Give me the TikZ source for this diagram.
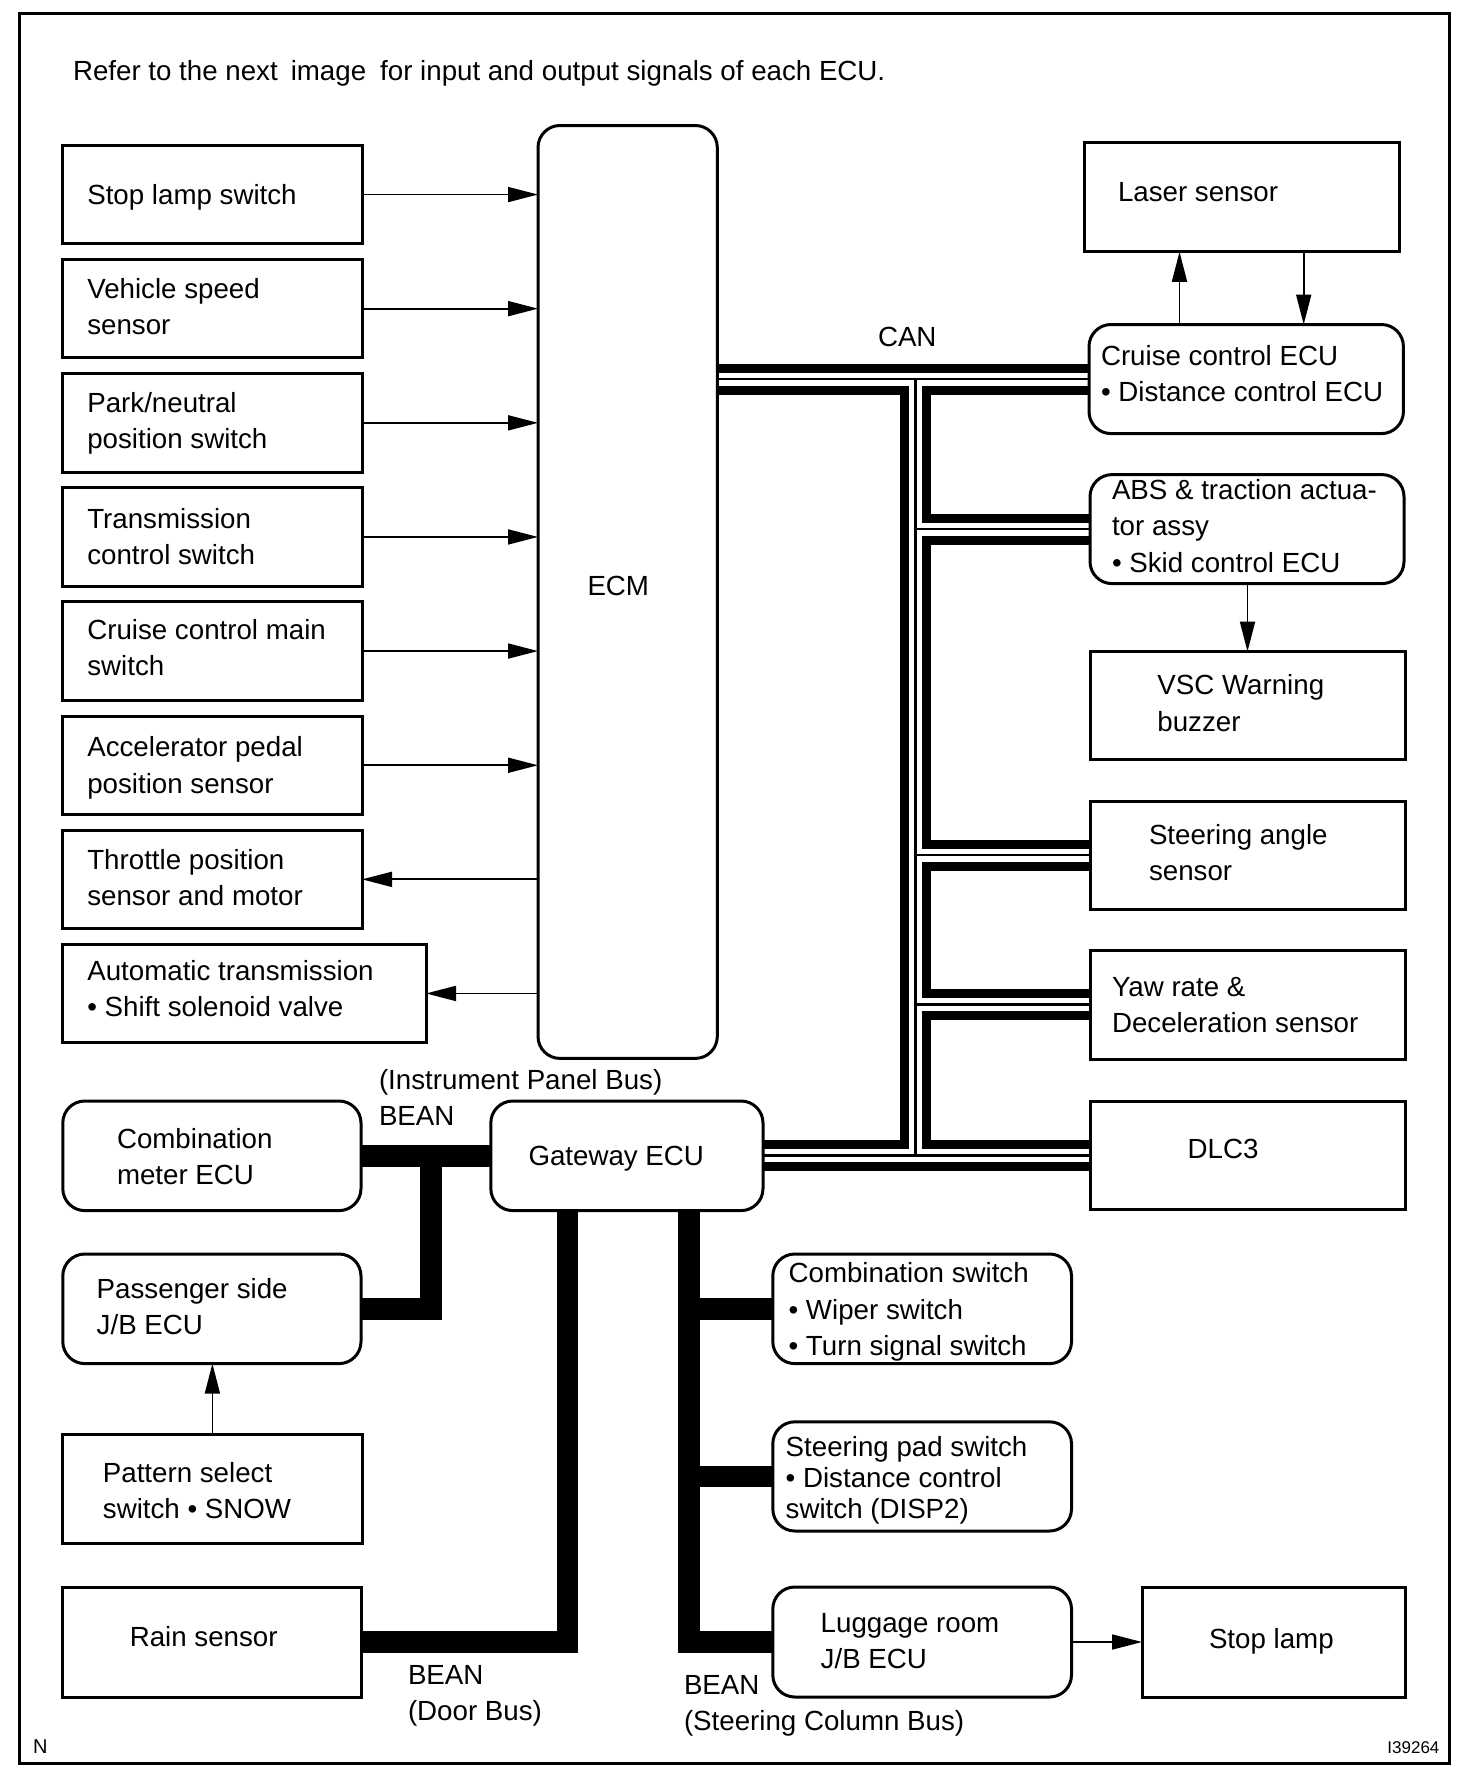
\documentclass[tikz,border=0pt]{standalone}
\usepackage{fontspec}
\setmainfont{Liberation Sans}
\usetikzlibrary{arrows.meta}
\pgfdeclarelayer{background}
\pgfsetlayers{background,main}
\newcommand{\twoL}[2]{\vtop{\hbox{#1}\hbox{#2}}}
\newcommand{\threeL}[3]{\vtop{\hbox{#1}\hbox{#2}\hbox{#3}}}
\newcommand{\bx}[6]{\node[#1, minimum width={(#4)-(#2)}, minimum height={(#5)-(#3)}] (#6) at ({((#2)+(#4))/2},{((#3)+(#5))/2}) {};}
\begin{document}
\begin{tikzpicture}[x=1pt,y=-1pt,
  box/.style={draw, line width=3pt, fill=white, inner sep=0pt, outer sep=0pt},
  rbox/.style={box, rounded corners=22pt},
  txt/.style={anchor=base west, inner sep=0pt, outer sep=0pt, font={\fontsize{27.7}{36.4}\selectfont}},
  tightxt/.style={txt, font={\fontsize{27.7}{30.7}\selectfont}},
  small/.style={inner sep=0pt, outer sep=0pt, font={\fontsize{17}{20}\selectfont}},
  sig/.style={line width=1.8pt, -{Triangle[length=30pt,width=15pt]}},
  canouter/.style={line width=31pt},
  caninner/.style={line width=13pt, white},
  canmid/.style={line width=2.7pt},
  bean/.style={line width=21.5pt, line join=miter},
]
\useasboundingbox (0,0) rectangle (1472,1780);

% ---------- boxes ----------
\bx{rbox}{538}{125.5}{717.3}{1058.4}{ecm}
\bx{box}{62.8}{145.4}{362}{243.7}{b0}
\bx{box}{62.8}{259.5}{362}{357.8}{b1}
\bx{box}{62.8}{373.7}{362}{472.0}{b2}
\bx{box}{62.8}{487.8}{362}{586.1}{b3}
\bx{box}{62.8}{601.9}{362}{700.2}{b4}
\bx{box}{62.8}{716.1}{362}{814.4}{b5}
\bx{box}{62.8}{830.2}{362}{928.5}{b6}
\bx{box}{62.8}{944.3}{426}{1042.6}{b7}

\bx{box}{1084.5}{142.4}{1399.6}{251.8}{laser}
\bx{rbox}{1089}{324.5}{1403.4}{433.6}{cruise}
\bx{rbox}{1090}{474.6}{1404}{583.6}{abs}
\bx{box}{1090}{651.6}{1405}{759.9}{vsc}
\bx{box}{1090}{801.2}{1405}{909}{steer}
\bx{box}{1090}{950.5}{1405}{1059}{yaw}
\bx{box}{1090}{1101}{1405}{1209.4}{dlc}

\bx{rbox}{490.8}{1101}{763}{1210.6}{gw}
\bx{rbox}{62.8}{1101}{361}{1210.6}{cmeter}
\bx{rbox}{62.8}{1254}{361}{1363.6}{pass}
\bx{box}{62.8}{1434.8}{362}{1543.5}{pattern}
\bx{box}{62.8}{1587}{361}{1697}{rain}

\bx{rbox}{772.8}{1254}{1071.5}{1363.6}{csw}
\bx{rbox}{772.8}{1421.8}{1071.5}{1531}{pad}
\bx{rbox}{772.8}{1587}{1071.5}{1697}{lug}
\bx{box}{1142}{1587}{1405}{1697}{stoplamp}

% ---------- bus x positions ----------
\coordinate (cvx) at (915.5,0);
\coordinate (ipx) at (431,0);
\coordinate (dbx) at (567.5,0);
\coordinate (scx) at (689,0);
\coordinate (lx1) at (1179.5,0);
\coordinate (lx2) at (1303.7,0);

\newcommand{\canpaths}[1]{%
  \draw[#1] (ecm.east |- cruise.west) -- (cruise.west);
  \draw[#1] (cvx |- cruise.west) -- (cvx |- gw.east);
  \draw[#1] (gw.east) -- (gw.east -| dlc.west);
  \draw[#1] (cvx |- abs.west) -- (abs.west);
  \draw[#1] (cvx |- steer.west) -- (steer.west);
  \draw[#1] (cvx |- yaw.west) -- (yaw.west);
}

\begin{pgfonlayer}{background}
  \fill[white] (0,0) rectangle (1472,1780);
  \canpaths{canouter}
  \canpaths{caninner}
  \canpaths{canmid}
  \draw[bean] (cmeter.east) -- (gw.west);
  \draw[bean] (ipx |- cmeter.east) -- (ipx |- pass.east) -- (pass.east);
  \draw[bean] (dbx |- gw.south) -- (dbx |- rain.east) -- (rain.east);
  \draw[bean] (scx |- gw.south) -- (scx |- lug.west) -- (lug.west);
  \draw[bean] (scx |- csw.west) -- (csw.west);
  \draw[bean] (scx |- pad.west) -- (pad.west);
\end{pgfonlayer}

% ---------- outer frame ----------
\draw[line width=3pt] (19,13.4) rectangle (1449,1763);

% ---------- signal arrows ----------
\draw[sig] (b0.east) -- (b0.east -| ecm.west);
\draw[sig] (b1.east) -- (b1.east -| ecm.west);
\draw[sig] (b2.east) -- (b2.east -| ecm.west);
\draw[sig] (b3.east) -- (b3.east -| ecm.west);
\draw[sig] (b4.east) -- (b4.east -| ecm.west);
\draw[sig] (b5.east) -- (b5.east -| ecm.west);
\draw[sig] (b6.east -| ecm.west) -- (b6.east);
\draw[sig] (b7.east -| ecm.west) -- (b7.east);
\draw[sig] (lx1 |- cruise.north) -- (lx1 |- laser.south);
\draw[sig] (lx2 |- laser.south) -- (lx2 |- cruise.north);
\draw[sig] (abs.south -| vsc.north) -- (vsc.north);
\draw[sig] (pattern.north) -- (pattern.north |- pass.south);
\draw[sig] (lug.east) -- (stoplamp.west);

% ---------- texts ----------
\node[txt] (title) at (73,80) {Refer to the next\hspace{13pt}image\hspace{14pt}for input and output signals of each ECU.};
\node[txt] (t0) at (87.3,204.7) {Stop lamp switch};
\node[txt] (t1) at (87.3,298.5) {\twoL{Vehicle speed}{sensor}};
\node[txt] (t2) at (87.3,412.5) {\twoL{Park/neutral}{position switch}};
\node[txt] (t3) at (87.3,528) {\twoL{Transmission}{control switch}};
\node[txt] (t4) at (87.3,639.3) {\twoL{Cruise control main}{switch}};
\node[txt] (t5) at (87.3,756.8) {\twoL{Accelerator pedal}{position sensor}};
\node[txt] (t6) at (87.3,869) {\twoL{Throttle position}{sensor and motor}};
\node[txt] (t7) at (87.3,980) {\twoL{Automatic transmission}{• Shift solenoid valve}};
\node[txt] (tecm) at (587.5,595) {ECM};

\node[txt] (tlaser) at (1118,201) {Laser sensor};
\node[txt] (tcan) at (878,346.3) {CAN};
\node[txt] (tcruise) at (1101,365.5) {\twoL{Cruise control ECU}{• Distance control ECU}};
\node[txt] (tabs) at (1112,499.4) {\threeL{ABS \& traction actua-}{tor assy}{• Skid control ECU}};
\node[txt] (tvsc) at (1157.4,694.8) {\twoL{VSC Warning}{buzzer}};
\node[txt] (tsteer) at (1149,844) {\twoL{Steering angle}{sensor}};
\node[txt] (tyaw) at (1112,996) {\twoL{Yaw rate \&}{Deceleration sensor}};
\node[txt] (tdlc) at (1187.6,1158) {DLC3};

\node[txt] (tipb) at (379,1089) {\twoL{(Instrument Panel Bus)}{BEAN}};
\node[txt] (tgw) at (528.5,1165.5) {Gateway ECU};
\node[txt] (tcm) at (117,1148.3) {\twoL{Combination}{meter ECU}};
\node[txt] (tpass) at (96.7,1298.4) {\twoL{Passenger side}{J/B ECU}};
\node[txt] (tpat) at (102.9,1482) {\twoL{Pattern select}{switch • SNOW}};
\node[txt] (train) at (129.8,1646) {Rain sensor};
\node[txt] (tdoor) at (408,1684) {\twoL{BEAN}{(Door Bus)}};
\node[txt] (tscb) at (684,1694) {\twoL{BEAN}{(Steering Column Bus)}};

\node[txt] (tcsw) at (788.6,1282.6) {\threeL{Combination switch}{• Wiper switch}{• Turn signal switch}};
\node[tightxt] (tpad) at (785.7,1456.6) {\threeL{Steering pad switch}{• Distance control}{switch (DISP2)}};
\node[txt] (tlug) at (820.7,1632.5) {\twoL{Luggage room}{J/B ECU}};
\node[txt] (tstop) at (1209,1648) {Stop lamp};

\node[small, anchor=base west, font={\fontsize{20}{24}\selectfont}] (tn) at (33,1753) {N};
\node[small, anchor=base east] (tid) at (1439.4,1753) {I39264};
\end{tikzpicture}
\end{document}
